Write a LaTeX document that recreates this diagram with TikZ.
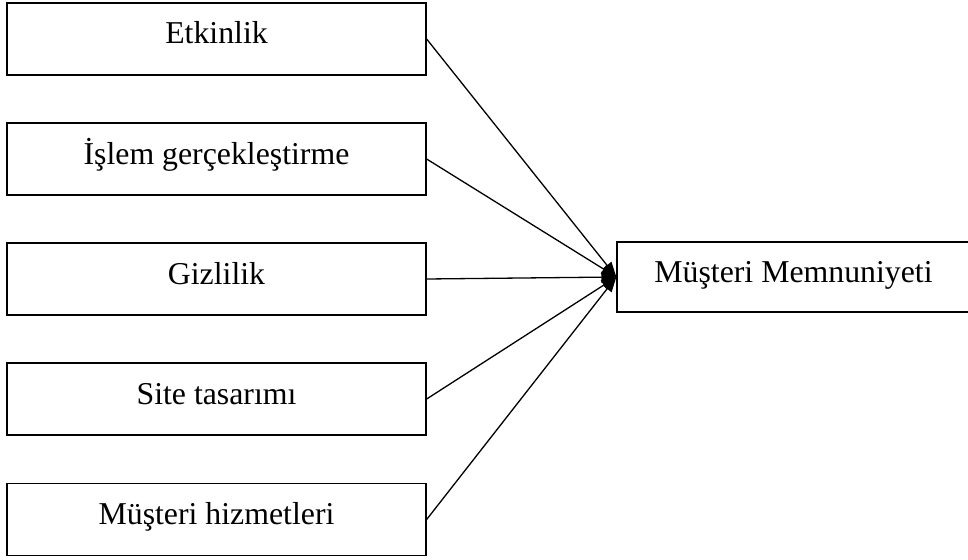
\documentclass[tikz,border=0pt]{standalone}
\usepackage{fontspec}
\setmainfont{Liberation Serif}
\usetikzlibrary{arrows.meta}
\begin{document}
\begin{tikzpicture}[x=1pt,y=-1pt,
  txt/.style={inner sep=0pt,text height=24pt,text depth=14pt,font=\fontsize{31.8}{38}\selectfont},
  box/.style={txt,draw=black,line width=1.3pt,minimum width=419pt,minimum height=72pt},
  tbox/.style={txt,draw=black,line width=1.3pt,minimum width=353pt,minimum height=70pt},
  conn/.style={line width=1.3pt,-{Triangle[length=15pt,width=11pt]}}]
\useasboundingbox (0,0) rectangle (968,559);
\node[box] (a) at (216.5,39) {Etkinlik};
\node[box] (b) at (216.5,159) {İşlem gerçekleştirme};
\node[box] (c) at (216.5,279) {Gizlilik};
\node[box] (d) at (216.5,399) {Site tasarımı};
\node[box] (e) at (216.5,519.5) {Müşteri hizmetleri};
\node[tbox] (m) at (793.5,277) {Müşteri Memnuniyeti};
\foreach \s in {a,b,c,d,e} \draw[conn] (\s.east) -- (m.west);
\end{tikzpicture}
\end{document}
